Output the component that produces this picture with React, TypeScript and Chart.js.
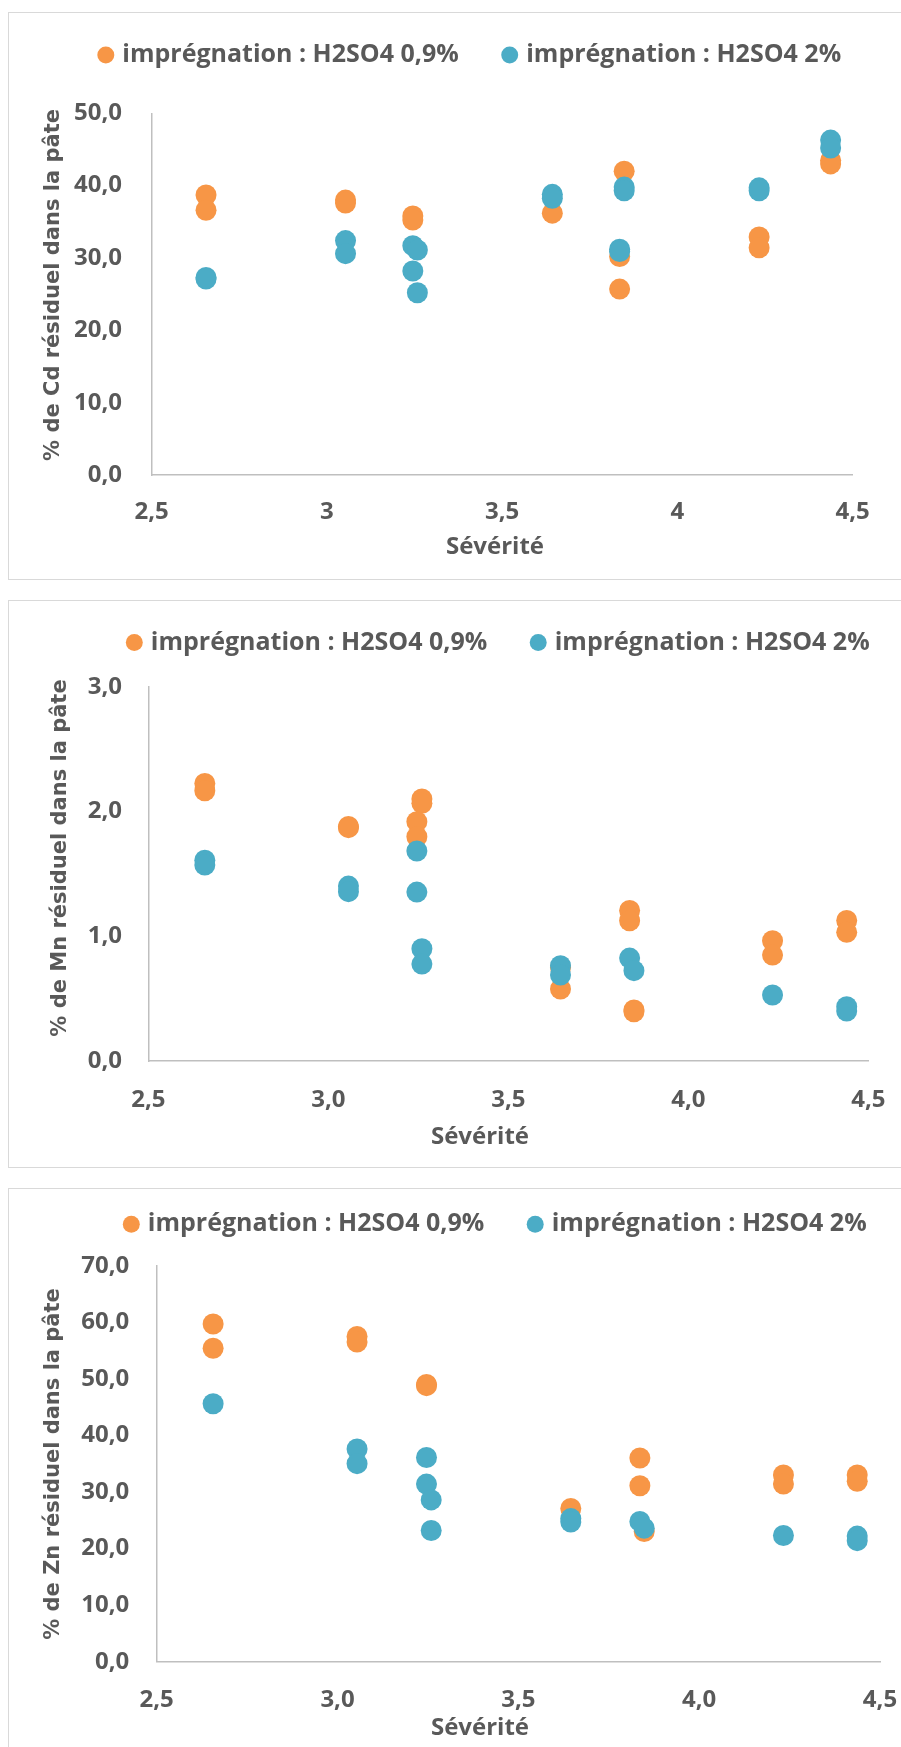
import React, { useEffect, useRef } from 'react';
import { Chart, registerables } from 'chart.js';

Chart.register(...registerables);

// ---------- data ----------
const legend09 = 'imprégnation : H2SO4 0,9%';
const legend2 = 'imprégnation : H2SO4 2%';
const xTitleText = 'Sévérité';

const xTicksCd = ['2,5', '3', '3,5', '4', '4,5'];
const xTicksDec = ['2,5', '3,0', '3,5', '4,0', '4,5'];
const yTicksCd = ['0,0', '10,0', '20,0', '30,0', '40,0', '50,0'];
const yTicksMn = ['0,0', '1,0', '2,0', '3,0'];
const yTicksZn = ['0,0', '10,0', '20,0', '30,0', '40,0', '50,0', '60,0', '70,0'];

// Cd
const cdX09 = [2.655, 2.655, 3.053, 3.053, 3.245, 3.245, 3.643, 3.848, 3.835, 3.835, 4.233, 4.233, 4.437, 4.437];
const cdY09 = [38.7, 36.6, 38.0, 37.6, 35.8, 35.25, 36.2, 42.0, 30.2, 25.7, 32.9, 31.4, 43.5, 43.0];
const cdX2 = [2.655, 2.655, 3.053, 3.053, 3.245, 3.258, 3.245, 3.258, 3.643, 3.643, 3.848, 3.848, 3.835, 3.835, 4.233, 4.233, 4.437, 4.437];
const cdY2 = [27.3, 27.1, 32.4, 30.6, 31.7, 31.1, 28.2, 25.2, 38.8, 38.25, 39.8, 39.3, 31.2, 30.9, 39.7, 39.3, 46.3, 45.2];

// Mn
const mnX09 = [2.657, 2.657, 3.056, 3.056, 3.260, 3.260, 3.246, 3.246, 3.645, 3.645, 3.837, 3.837, 3.849, 3.849, 4.234, 4.234, 4.440, 4.440];
const mnY09 = [2.225, 2.166, 1.88, 1.87, 2.10, 2.065, 1.918, 1.797, 0.75, 0.577, 1.207, 1.124, 0.409, 0.395, 0.964, 0.849, 1.127, 1.031];
const mnX2 = [2.657, 2.657, 3.056, 3.056, 3.246, 3.246, 3.260, 3.260, 3.645, 3.645, 3.837, 3.849, 4.234, 4.440, 4.440];
const mnY2 = [1.61, 1.57, 1.402, 1.357, 1.683, 1.354, 0.90, 0.777, 0.764, 0.689, 0.825, 0.724, 0.529, 0.435, 0.40];

// Zn
const znX09 = [2.656, 2.656, 3.054, 3.054, 3.246, 3.246, 3.645, 3.836, 3.836, 3.848, 4.233, 4.233, 4.437, 4.437];
const znY09 = [59.7, 55.4, 57.5, 56.5, 49.0, 48.8, 27.1, 36.0, 31.1, 23.0, 33.0, 31.4, 33.0, 31.9];
const znX2 = [2.656, 3.054, 3.054, 3.246, 3.246, 3.259, 3.259, 3.645, 3.645, 3.836, 3.848, 4.233, 4.437, 4.437];
const znY2 = [45.6, 37.6, 35.0, 36.1, 31.4, 28.6, 23.2, 25.3, 24.7, 24.8, 23.6, 22.3, 22.2, 21.4];

// ---------- styles ----------
const ORANGE = '#F79646';
const TEAL = '#4BACC6';
const TEXT = '#595959';
const AXIS = '#bfbfbf';
const FONT = '"Open Sans", "Noto Sans", sans-serif';

const zip = (xs: number[], ys: number[]) => xs.map((x, i) => ({ x, y: ys[i] }));

interface PanelCfg {
  top: number;
  W: number;
  H: number;
  plotLeft: number;
  plotRight: number;
  xScaleH: number;
  padTop: number;
  legendExtra: number;
  yTickPad: number;
  xTickPad: number;
  yTitle: string;
  yTitlePos: [number, number];
  xTitlePos: [number, number];
  yMax: number;
  yStep: number;
  yLabels: string[];
  xLabels: string[];
  x09: number[];
  y09: number[];
  x2: number[];
  y2: number[];
}

const panels: PanelCfg[] = [
  {
    top: 12, W: 925, H: 566, plotLeft: 142.7, plotRight: 843.7, xScaleH: 104,
    padTop: -17.5, legendExtra: 35.8, yTickPad: 29.7, xTickPad: 22.3,
    yTitle: '% de Cd résiduel dans la pâte', yTitlePos: [45, 272], xTitlePos: [486, 534],
    yMax: 50, yStep: 10, yLabels: yTicksCd, xLabels: xTicksCd,
    x09: cdX09, y09: cdY09, x2: cdX2, y2: cdY2,
  },
  {
    top: 600, W: 982, H: 566, plotLeft: 139.3, plotRight: 859.3, xScaleH: 106,
    padTop: -18, legendExtra: 21.7, yTickPad: 26.3, xTickPad: 24.6,
    yTitle: '% de Mn résiduel dans la pâte', yTitlePos: [52, 257], xTitlePos: [471, 536.5],
    yMax: 3, yStep: 1, yLabels: yTicksMn, xLabels: xTicksDec,
    x09: mnX09, y09: mnY09, x2: mnX2, y2: mnY2,
  },
  {
    top: 1188, W: 976, H: 566, plotLeft: 147.7, plotRight: 871, xScaleH: 93.3,
    padTop: -24.2, legendExtra: 18.9, yTickPad: 27.5, xTickPad: 23.6,
    yTitle: '% de Zn résiduel dans la pâte', yTitlePos: [45, 275], xTitlePos: [471, 539],
    yMax: 70, yStep: 10, yLabels: yTicksZn, xLabels: xTicksDec,
    x09: znX09, y09: znY09, x2: znX2, y2: znY2,
  },
];

function Panel({ cfg }: { cfg: PanelCfg }) {
  const ref = useRef<HTMLCanvasElement | null>(null);

  useEffect(() => {
    if (!ref.current) return;
    const tickFont = { family: FONT, size: 24, weight: 'bold' as const };

    const legendSpacing = {
      id: 'legendSpacing',
      beforeInit(chart: any) {
        const lg = chart.legend;
        if (!lg) return;
        const orig = lg.fit;
        lg.fit = function () {
          orig.call(this);
          this.height += cfg.legendExtra;
        };
      },
    };

    const axisTitles = {
      id: 'axisTitles',
      afterDraw(chart: any) {
        const ctx = chart.ctx;
        ctx.save();
        ctx.fillStyle = TEXT;
        ctx.textAlign = 'center';
        ctx.textBaseline = 'middle';
        ctx.font = `bold 24px ${FONT}`;
        ctx.fillText(xTitleText, cfg.xTitlePos[0], cfg.xTitlePos[1]);
        ctx.translate(cfg.yTitlePos[0], cfg.yTitlePos[1]);
        ctx.rotate(-Math.PI / 2);
        ctx.font = 'bold 21px "DejaVu Sans", sans-serif';
        ctx.fillText(cfg.yTitle, 0, 0);
        ctx.restore();
      },
    };

    const chart = new Chart(ref.current, {
      type: 'scatter',
      data: {
        datasets: [
          {
            label: legend09,
            data: zip(cfg.x09, cfg.y09),
            backgroundColor: ORANGE,
            borderColor: ORANGE,
            pointBackgroundColor: ORANGE,
            pointBorderColor: ORANGE,
            pointBorderWidth: 0,
            borderWidth: 0,
            pointRadius: 10.5,
            pointHoverRadius: 10.5,
            pointStyle: 'circle',
            order: 1,
          },
          {
            label: legend2,
            data: zip(cfg.x2, cfg.y2),
            backgroundColor: TEAL,
            borderColor: TEAL,
            pointBackgroundColor: TEAL,
            pointBorderColor: TEAL,
            pointBorderWidth: 0,
            borderWidth: 0,
            pointRadius: 10.5,
            pointHoverRadius: 10.5,
            pointStyle: 'circle',
            order: 0,
          },
        ],
      },
      options: {
        responsive: false,
        animation: false,
        events: [],
        devicePixelRatio: 1,
        layout: { padding: { top: cfg.padTop, left: 0, right: 0, bottom: 0 } },
        plugins: {
          tooltip: { enabled: false },
          legend: {
            display: true,
            position: 'top',
            align: 'center',
            labels: {
              usePointStyle: true,
              boxWidth: 8,
              boxHeight: 12,
              padding: 47,
              color: TEXT,
              font: { family: FONT, size: 25, weight: 'bold' },
              sort: (a: any, b: any) => a.datasetIndex - b.datasetIndex,
            },
          },
        },
        scales: {
          x: {
            type: 'linear',
            min: 2.5,
            max: 4.5,
            ticks: {
              stepSize: 0.5,
              autoSkip: false,
              maxRotation: 0,
              padding: cfg.xTickPad,
              color: TEXT,
              font: tickFont,
              callback: (_v: any, i: number) => cfg.xLabels[i],
            },
            grid: { display: false, drawTicks: false },
            border: { display: true, color: AXIS, width: 1.5 },
            afterFit: (s: any) => {
              s.height = cfg.xScaleH;
              s.paddingRight = cfg.W - cfg.plotRight;
            },
          },
          y: {
            type: 'linear',
            min: 0,
            max: cfg.yMax,
            ticks: {
              stepSize: cfg.yStep,
              autoSkip: false,
              padding: cfg.yTickPad,
              color: TEXT,
              font: tickFont,
              callback: (_v: any, i: number) => cfg.yLabels[i],
            },
            grid: { display: false, drawTicks: false },
            border: { display: true, color: AXIS, width: 1.5 },
            afterFit: (s: any) => {
              s.width = cfg.plotLeft;
            },
          },
        },
      } as any,
      plugins: [legendSpacing, axisTitles],
    });

    return () => chart.destroy();
  }, [cfg]);

  return (
    <div
      style={{
        position: 'absolute',
        left: 8,
        top: cfg.top,
        width: 1000,
        height: cfg.H,
        border: '1px solid #d9d9d9',
        overflow: 'hidden',
        background: '#fff',
      }}
    >
      <canvas ref={ref} width={cfg.W} height={cfg.H} style={{ display: 'block' }} />
    </div>
  );
}

export default function App() {
  return (
    <div
      style={{
        position: 'absolute',
        left: 0,
        top: 0,
        right: 0,
        height: 1747,
        overflow: 'hidden',
        background: '#fff',
      }}
    >
      {panels.map((p, i) => (
        <Panel key={i} cfg={p} />
      ))}
    </div>
  );
}
